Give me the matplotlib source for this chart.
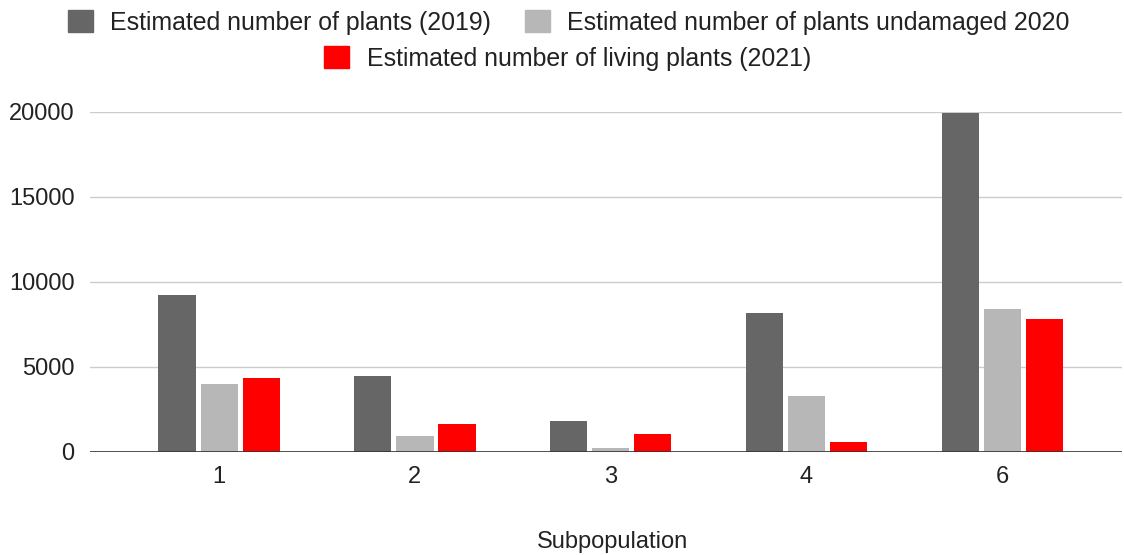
import matplotlib.pyplot as plt
import numpy as np
from matplotlib.patches import Patch

plt.rcParams['font.family'] = ['Liberation Sans', 'DejaVu Sans']

subpops = ["1", "2", "3", "4", "6"]
plants_2019 = [9200, 4460, 1780, 8140, 19940]
undamaged_2020 = [3990, 940, 250, 3290, 8380]
living_2021 = [4360, 1660, 1070, 590, 7790]

labels = ["Estimated number of plants (2019)",
          "Estimated number of plants undamaged 2020",
          "Estimated number of living plants (2021)"]
colors = ["#666666", "#b7b7b7", "#ff0000"]

fig = plt.figure(figsize=(11.24, 5.55), dpi=100)
ax = fig.add_axes([0.080, 0.186, 0.918, 0.613])

x = np.arange(len(subpops))
step = 0.215
width = 0.19
for i, (vals, c) in enumerate(zip([plants_2019, undamaged_2020, living_2021], colors)):
    ax.bar(x + (i - 1) * step, vals, width=width, color=c, zorder=3)

ax.set_xlim(-0.66, 4.61)
ax.set_ylim(0, 20000)
ax.set_yticks([0, 5000, 10000, 15000, 20000])
ax.set_yticklabels(["0", "5000", "10000", "15000", "20000"])
ax.set_xticks(x)
ax.set_xticklabels(subpops)
ax.grid(axis='y', color='#cccccc', linewidth=1, zorder=0)
ax.axhline(0, color='#333333', linewidth=1.2, zorder=4)
for s in ax.spines.values():
    s.set_visible(False)
ax.tick_params(length=0, labelsize=17, colors='#222222')
ax.tick_params(axis='y', pad=11)
ax.tick_params(axis='x', pad=10)
ax.set_xlabel("Subpopulation", fontsize=17, color='#222222')
ax.xaxis.set_label_coords(0.506, -0.234)

handles = [Patch(color=c) for c in colors]
leg_kw = dict(frameon=False, fontsize=17.9, handlelength=1.0, handleheight=1.0,
              handletextpad=0.7, columnspacing=1.36, labelcolor='#222222',
              borderpad=0, borderaxespad=0)
fig.legend(handles[:2], labels[:2], loc='center', bbox_to_anchor=(0.506, 0.960), ncol=2, **leg_kw)
fig.legend(handles[2:], labels[2:], loc='center', bbox_to_anchor=(0.505, 0.895), ncol=1, **leg_kw)

fig.savefig("out.png", dpi=100)
